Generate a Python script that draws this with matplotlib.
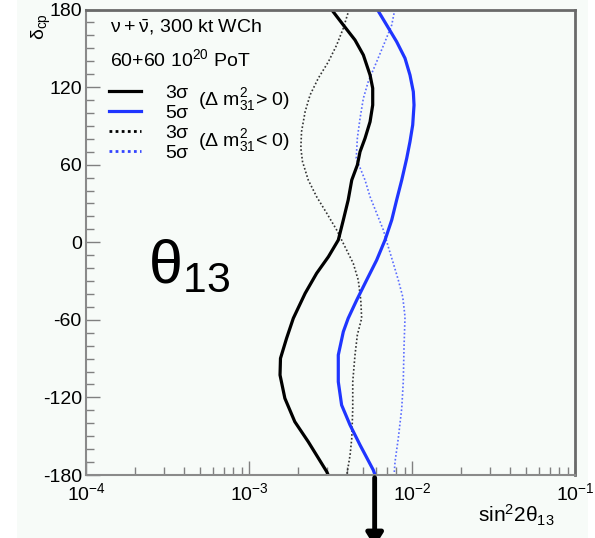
import numpy as np
import matplotlib
matplotlib.use('Agg')
import matplotlib.pyplot as plt
from matplotlib.ticker import MultipleLocator, LogLocator, NullFormatter
from matplotlib.patches import Rectangle

plt.rcParams['font.family'] = ['Liberation Sans', 'DejaVu Sans']
plt.rcParams['mathtext.default'] = 'regular'
plt.rcParams['axes.unicode_minus'] = False

# sin^2(2 theta13) sensitivity vs delta_CP
delta_3s_pos = [180, 178.8, 168, 156.4, 144.8, 129.3, 119.1, 106.1, 93.2, 80.4, 70, 59.7, 48.1,
                32.7, 17.2, 1.7, -11.2, -24, -39.5, -58.8, -74.3, -89.8, -102.7, -120.7,
                -138.8, -154.3, -177.5, -180]
s3_pos = [0.00322, 0.00326, 0.00379, 0.00447, 0.00503, 0.00553, 0.00574, 0.00574, 0.00553,
          0.00515, 0.00480, 0.00462, 0.00427, 0.00406, 0.00379, 0.00353, 0.00307, 0.00260,
          0.00221, 0.00187, 0.00170, 0.00156, 0.00155, 0.00166, 0.00191, 0.00231, 0.00300,
          0.00306]

delta_5s_pos = [180, 178.8, 168, 155.1, 142.3, 129.3, 116.4, 106.1, 90.7, 77.8, 64.9, 48.1,
                32.7, 17.2, 1.7, -13.8, -29.2, -44.7, -58.8, -69.2, -87.2, -107.9, -125.9,
                -141.4, -156.8, -176.2, -180]
s5_pos = [0.00614, 0.00621, 0.00699, 0.00805, 0.00906, 0.00972, 0.01019, 0.01029, 0.01010,
          0.00972, 0.00928, 0.00865, 0.00805, 0.00751, 0.00683, 0.00607, 0.00527, 0.00458,
          0.00406, 0.00379, 0.00353, 0.00353, 0.00370, 0.00417, 0.00480, 0.00579, 0.00593]

delta_3s_neg = [180, 177.8, 165.5, 152.5, 139.6, 126.8, 113.9, 101, 85.5, 72.7, 62.3, 48.1,
                35.2, 22.4, 9.5, -3.5, -16.3, -29.2, -44.7, -58.8, -71.7, -87.2, -107.9,
                -128.4, -151.6, -164.6, -177.5, -180]
s3_neg = [0.00408, 0.00406, 0.00379, 0.00345, 0.00307, 0.00266, 0.00237, 0.00221, 0.00210,
          0.00208, 0.00213, 0.00231, 0.00260, 0.00300, 0.00345, 0.00388, 0.00436, 0.00468,
          0.00485, 0.00491, 0.00462, 0.00447, 0.00433, 0.00433, 0.00427, 0.00417, 0.00401,
          0.00398]

delta_5s_neg = [180, 177.1, 168, 155.1, 139.6, 124.2, 111.3, 95.8, 80.4, 64.9, 48.1, 35.2,
                22.4, 9.5, -3.5, -16.3, -29.2, -42.1, -57.6, -82, -107.9, -128.4, -151.6,
                -169.7, -177.5, -180]
s5_neg = [0.00780, 0.00776, 0.00751, 0.00683, 0.00607, 0.00539, 0.00503, 0.00480, 0.00462,
          0.00455, 0.00515, 0.00553, 0.00607, 0.00667, 0.00715, 0.00768, 0.00824, 0.00877,
          0.00906, 0.00893, 0.00884, 0.00865, 0.00824, 0.00787, 0.00779, 0.00776]

arrow_x = 0.0059
yticks = [-180, -120, -60, 0, 60, 120, 180]

bg = '#f7fbf8'
fig = plt.figure(figsize=(5.95, 5.38), dpi=100, facecolor='white')
panel = Rectangle((17 / 595, 0), (588 - 17) / 595, 1, transform=fig.transFigure,
                  facecolor=bg, edgecolor='none', zorder=-10)
fig.add_artist(panel)
ax = fig.add_axes([86 / 595, 63 / 538, 489 / 595, 465.5 / 538])
ax.set_facecolor(bg)

ax.plot(s3_neg, delta_3s_neg, color='#333333', lw=1.2, ls=(0, (1, 1.3)))
ax.plot(s5_neg, delta_5s_neg, color='#5a6cff', lw=1.2, ls=(0, (1, 1.3)))
l1, = ax.plot(s3_pos, delta_3s_pos, color='black', lw=2.3)
l2, = ax.plot(s5_pos, delta_5s_pos, color='#1f35ff', lw=2.3)
h3, = ax.plot([], [], color='black', lw=2, ls=(0, (1, 1.2)))
h4, = ax.plot([], [], color='#3344ff', lw=2, ls=(0, (1, 1.2)))

ax.set_xscale('log')
ax.set_xlim(1e-4, 1e-1)
ax.set_ylim(-180, 180)
ax.set_yticks(yticks)
ax.yaxis.set_minor_locator(MultipleLocator(10))
ax.xaxis.set_minor_locator(LogLocator(base=10, subs=np.arange(2, 10)))
ax.xaxis.set_minor_formatter(NullFormatter())

ax.tick_params(which='both', direction='in', color='#808080', width=1,
               labelsize=14, top=False, right=False)
ax.tick_params(which='major', length=10)
ax.tick_params(which='minor', length=6)
ax.tick_params(axis='y', pad=3)
ax.tick_params(axis='x', pad=5)
for side in ['left', 'bottom']:
    ax.spines[side].set_color('#8a8a8a')
    ax.spines[side].set_linewidth(1.5)
for side in ['top', 'right']:
    ax.spines[side].set_color('#6a6a6a')
    ax.spines[side].set_linewidth(2)

fig.text(41 / 595, 1 - 27 / 538, r'$\delta_{cp}$', rotation=90, ha='center', va='center', fontsize=14)
fig.text(516 / 595, 1 - 515 / 538, r'sin$^{2}$2$\theta_{13}$', ha='center', va='center', fontsize=15)

ax.text(0.049, 0.962, r'$\nu+\bar{\nu}$, 300 kt WCh', transform=ax.transAxes, fontsize=14, va='center')
ax.text(0.049, 0.894, r'60+60 10$^{20}$ PoT', transform=ax.transAxes, fontsize=14, va='center')

ax.legend([l1, l2, h3, h4], ['3$\\sigma$', '5$\\sigma$', '3$\\sigma$', '5$\\sigma$'],
          loc='upper left', bbox_to_anchor=(0.02, 0.868), frameon=False, fontsize=14,
          handlelength=1.65, handletextpad=1.2, labelspacing=0.12, borderpad=0.2)
ax.text(0.229, 0.806, r'($\Delta$ m$^{2}_{31}$> 0)', transform=ax.transAxes, fontsize=14, va='center')
ax.text(0.229, 0.718, r'($\Delta$ m$^{2}_{31}$< 0)', transform=ax.transAxes, fontsize=14, va='center')

ax.text(0.127, 0.413, r'$\theta_{13}$', transform=ax.transAxes, fontsize=44, va='baseline')

ax.annotate('', xy=(arrow_x, -0.16), xytext=(arrow_x, 0.0),
            xycoords=('data', 'axes fraction'), textcoords=('data', 'axes fraction'),
            arrowprops=dict(arrowstyle='-|>,head_width=0.5,head_length=0.8', color='black', lw=3.5),
            annotation_clip=False)

fig.savefig('out.png', dpi=100, facecolor='white')
